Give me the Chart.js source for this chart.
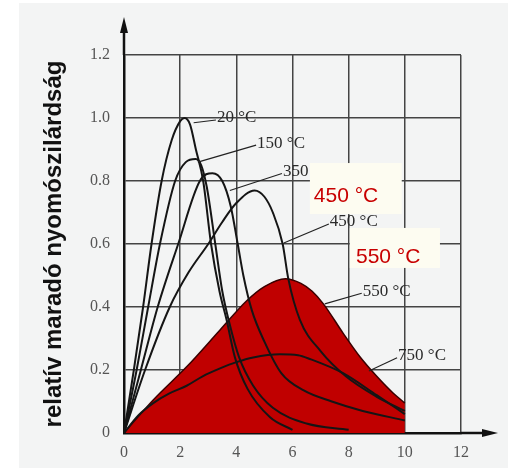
<!DOCTYPE html>
<html>
<head>
<meta charset="utf-8">
<script src="https://cdn.jsdelivr.net/npm/chart.js@4.4.1/dist/chart.umd.min.js"></script>
<style>
  html, body { margin: 0; padding: 0; background: #fff; }
  #wrap { width: 508px; height: 468px; }
</style>
</head>
<body>
<div id="wrap"><canvas id="chart" width="508" height="468"></canvas></div>
<script>
// tick labels
const xTickLabels = ['0', '2', '4', '6', '8', '10', '12'];
const yTickLabels = ['0', '0.2', '0.4', '0.6', '0.8', '1.0', '1.2'];

// curves (x, relative strength)
const c20x  = [0, 0.35, 0.68, 0.98, 1.34, 1.7, 2.0, 2.15, 2.35, 2.56, 2.82, 3.1, 3.4, 3.65, 3.95, 4.4, 5.2, 6.0];
const c20y  = [0, 0.2, 0.40, 0.60, 0.80, 0.93, 0.99, 1.0, 0.98, 0.9, 0.8, 0.6, 0.45, 0.36, 0.24, 0.14, 0.05, 0.01];
const c150x = [0, 0.45, 0.86, 1.28, 1.82, 2.2, 2.55, 2.75, 2.95, 3.25, 3.5, 3.75, 4.1, 4.6, 5.3, 6.5, 8.0];
const c150y = [0, 0.2, 0.40, 0.60, 0.80, 0.86, 0.87, 0.85, 0.78, 0.6, 0.45, 0.35, 0.24, 0.15, 0.08, 0.03, 0.01];
const c350x = [0, 0.6, 1.2, 1.93, 2.7, 3.15, 3.5, 3.8, 4.05, 4.25, 4.55, 5.0, 5.6, 6.4, 7.4, 8.5, 10];
const c350y = [0, 0.2, 0.40, 0.60, 0.80, 0.825, 0.80, 0.72, 0.6, 0.5, 0.39, 0.29, 0.19, 0.135, 0.10, 0.07, 0.04];
const c450x = [0, 0.75, 1.63, 2.3, 3.0, 3.5, 4.0, 4.65, 5.0, 5.3, 5.65, 5.85, 6.26, 7.0, 7.9, 9.0, 10];
const c450y = [0, 0.2, 0.40, 0.51, 0.60, 0.67, 0.73, 0.77, 0.75, 0.70, 0.60, 0.49, 0.36, 0.26, 0.18, 0.115, 0.07];
const c550x = [0, 1.04, 2.23, 3.42, 4.37, 5.0, 5.75, 6.3, 6.7, 7.1, 7.8, 8.4, 9.0, 9.58, 10];
const c550y = [0, 0.105, 0.21, 0.327, 0.42, 0.465, 0.49, 0.475, 0.45, 0.41, 0.317, 0.242, 0.18, 0.127, 0.095];
const c750x = [0, 0.5, 1.04, 1.6, 2.23, 2.8, 3.42, 4.0, 4.6, 5.55, 6.2, 6.62, 7.8, 9.0, 10];
const c750y = [0, 0.055, 0.095, 0.125, 0.15, 0.18, 0.205, 0.225, 0.24, 0.25, 0.247, 0.235, 0.19, 0.12, 0.06];

// curve names with leader lines (text anchor + point on the curve)
const curveNotes = [
  { text: '20 °C',  x: 3.31, y: 1.0,   lx: 2.48, ly: 0.985 },
  { text: '150 °C', x: 4.74, y: 0.92,  lx: 2.63, ly: 0.86 },
  { text: '350 °C', x: 5.66, y: 0.83,  lx: 3.77, ly: 0.77 },
  { text: '450 °C', x: 7.33, y: 0.67,  lx: 5.69, ly: 0.603 },
  { text: '550 °C', x: 8.5,  y: 0.45,  lx: 7.15, ly: 0.41 },
  { text: '750 °C', x: 9.76, y: 0.245, lx: 8.72, ly: 0.197 }
];
// the red stickers pasted over the figure
const callouts = [
  { text: '450 °C', x: 6.76, y: 0.752, box: [6.62, 0.857, 9.89, 0.695] },
  { text: '550 °C', x: 8.26, y: 0.559, box: [8.04, 0.651, 11.25, 0.524] }
];

function pts(xs, ys) {
  return xs.map((x, i) => ({ x: x, y: ys[i] }));
}

function curve(label, xs, ys) {
  return {
    label: label,
    data: pts(xs, ys),
    borderColor: '#151515',
    borderWidth: 2,
    pointRadius: 0,
    fill: false,
    cubicInterpolationMode: 'monotone',
    order: 1
  };
}

const paperPlugin = {
  id: 'paper',
  beforeDraw(chart) {
    const ctx = chart.ctx;
    ctx.save();
    ctx.fillStyle = '#ffffff';
    ctx.fillRect(0, 0, chart.width, chart.height);
    ctx.fillStyle = '#f3f4f4';
    ctx.fillRect(19, 3, chart.width - 19, chart.height - 3);
    ctx.restore();
  }
};

const notesPlugin = {
  id: 'notes',
  afterDatasetsDraw(chart) {
    const ctx = chart.ctx;
    const xs = chart.scales.x, ys = chart.scales.y;
    const px = v => xs.getPixelForValue(v), py = v => ys.getPixelForValue(v);
    ctx.save();

    // black curve names
    ctx.font = '17px "Liberation Serif", "DejaVu Serif", serif';
    ctx.textAlign = 'left';
    ctx.textBaseline = 'middle';
    ctx.strokeStyle = '#222';
    ctx.lineWidth = 1.2;
    curveNotes.forEach(n => {
      ctx.beginPath();
      ctx.moveTo(px(n.lx), py(n.ly));
      ctx.lineTo(px(n.x) - 1, py(n.y) + 2);
      ctx.stroke();
      ctx.fillStyle = '#2a2a2a';
      ctx.fillText(n.text, px(n.x), py(n.y));
    });

    // red stickers
    callouts.forEach(c => {
      const b = c.box;
      ctx.fillStyle = '#fdfcf1';
      ctx.fillRect(px(b[0]), py(b[1]), px(b[2]) - px(b[0]), py(b[3]) - py(b[1]));
      ctx.fillStyle = '#c80000';
      ctx.font = '21px "Liberation Sans", Arial, sans-serif';
      ctx.fillText(c.text, px(c.x), py(c.y));
    });
    ctx.restore();
  },
  afterDraw(chart) {
    // arrow heads on both axes
    const ctx = chart.ctx;
    const a = chart.chartArea;
    const x0 = chart.scales.x.getPixelForValue(0);
    const y0 = chart.scales.y.getPixelForValue(0);
    ctx.save();
    ctx.strokeStyle = '#111';
    ctx.fillStyle = '#111';
    ctx.lineWidth = 2.5;
    ctx.beginPath();
    ctx.moveTo(x0, a.top);
    ctx.lineTo(x0, a.top - 30);
    ctx.moveTo(a.right, y0);
    ctx.lineTo(a.right + 28, y0);
    ctx.stroke();
    ctx.beginPath();
    ctx.moveTo(x0, a.top - 38);
    ctx.lineTo(x0 - 4, a.top - 22);
    ctx.lineTo(x0 + 4, a.top - 22);
    ctx.closePath();
    ctx.fill();
    ctx.beginPath();
    ctx.moveTo(a.right + 37, y0);
    ctx.lineTo(a.right + 21, y0 - 4);
    ctx.lineTo(a.right + 21, y0 + 4);
    ctx.closePath();
    ctx.fill();
    ctx.restore();
  }
};

const tickFont = { family: '"Liberation Serif", "DejaVu Serif", serif', size: 16 };

new Chart(document.getElementById('chart'), {
  type: 'line',
  data: {
    datasets: [
      curve('20 °C', c20x, c20y),
      curve('150 °C', c150x, c150y),
      curve('350 °C', c350x, c350y),
      curve('450 °C', c450x, c450y),
      curve('750 °C', c750x, c750y),
      {
        label: '550 °C',
        data: pts(c550x, c550y),
        borderColor: '#3a0000',
        borderWidth: 1.5,
        backgroundColor: '#c00000',
        pointRadius: 0,
        fill: 'origin',
        cubicInterpolationMode: 'monotone',
        order: 10
      }
    ]
  },
  options: {
    responsive: false,
    animation: false,
    layout: { padding: { top: 55, right: 47, left: 0, bottom: 0 } },
    plugins: {
      legend: { display: false },
      tooltip: { enabled: false }
    },
    scales: {
      x: {
        type: 'linear',
        min: 0,
        max: 12,
        ticks: {
          stepSize: 2,
          padding: 10,
          color: '#555',
          font: tickFont,
          callback: (v, i) => xTickLabels[i]
        },
        grid: { color: '#444', lineWidth: 1.5, drawTicks: false },
        border: { color: '#111', width: 2.5 },
        afterFit: s => { s.height = 35; }
      },
      y: {
        min: 0,
        max: 1.2,
        ticks: {
          stepSize: 0.2,
          padding: 14,
          color: '#555',
          font: tickFont,
          callback: (v, i) => yTickLabels[i]
        },
        grid: { color: '#444', lineWidth: 1.5, drawTicks: false },
        border: { color: '#111', width: 2.5 },
        title: {
          display: true,
          text: 'relatív maradó nyomószilárdság',
          color: '#111',
          padding: { top: 40, bottom: 0 },
          font: { family: '"Liberation Sans", Arial, sans-serif', size: 24, weight: 'bold' }
        },
        afterFit: s => { s.width = 124; }
      }
    }
  },
  plugins: [paperPlugin, notesPlugin]
});
</script>
</body>
</html>
